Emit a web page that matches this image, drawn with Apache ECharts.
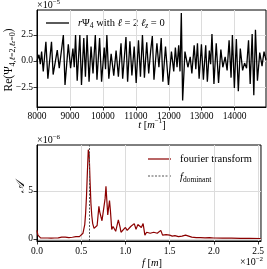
<!DOCTYPE html>
<html><head><meta charset="utf-8">
<script src="https://cdn.jsdelivr.net/npm/echarts@6/dist/echarts.min.js"></script>
<style>html,body{margin:0;padding:0;background:#fff}#c{width:267px;height:269px}</style>
</head><body><div id="c"></div>
<script>
// ---- top panel: Re(Psi4) vs t (values in units of 1e-5) ----
const timeVals = [8000,8060,8100,8140,8190,8270,8330,8440,8490,8615,8675,8800,8850,8950,9020,9090,9130,9170,9220,9300,
9350,9420,9470,9520,9580,9640,9700,9770,9820,9900,9960,10040,10080,10120,10180,10250,10330,10400,10470,10550,
10600,10700,10750,10820,10880,10950,11010,11080,11140,11200,11260,11330,11390,11450,11500,11550,11640,11700,11770,11820,
11900,11990,12080,12150,12200,12250,12300,12340,12380,12420,12490,12580,12650,12700,12770,12820,12870,12920,12990,13050,
13120,13170,13230,13270,13310,13370,13440,13510,13580,13640,13710,13770,13830,13890,13930,13990,14050,14110,14170,14240,
14300,14360,14420,14470,14530,14580,14630,14690,14760,14830,14890,14950];
const signalVals = [0.0,0.6,-0.3,0.9,-1.0,1.85,-1.7,1.85,-1.3,1.05,-0.7,2.5,-2.3,1.6,-0.7,1.2,-0.6,2.5,-1.9,2.5,
-2.3,2.2,-1.5,2.5,-2.0,1.4,-1.2,2.5,-1.8,2.2,-2.0,1.3,-0.8,2.5,-1.7,0.7,-1.4,1.0,-1.5,1.7,
-1.7,2.3,-2.0,1.9,-1.4,1.4,-2.1,2.0,-1.5,2.5,-1.6,1.8,-1.2,1.0,2.4,-1.8,1.7,-0.6,2.2,-2.0,
1.4,-2.3,0.9,-1.0,1.3,-0.6,1.5,-1.0,4.6,-3.8,0.9,-0.6,0.4,-1.2,1.5,-0.8,1.7,-1.7,1.6,-1.8,
1.5,-2.0,1.0,-0.3,2.6,-2.2,1.7,-2.1,1.1,-0.6,0.4,-0.9,2.0,-1.6,2.5,-2.6,2.1,-2.9,1.2,-0.9,
-0.2,-0.7,2.0,-2.2,2.6,-3.3,3.0,-1.9,0.8,-0.5,0.9,0.1];
const topXTicks = [8000,9000,10000,11000,12000,13000,14000];
const topYTicks = [-2.5,0,2.5];

// ---- bottom panel: Fourier amplitude vs f (f in 1e-2, A in 1e-6) ----
const freqVals = [0.00,0.01,0.02,0.04,0.08,0.12,0.16,0.20,0.24,0.28,0.30,0.32,0.36,0.40,0.44,0.46,0.48,0.50,0.52,0.54,
0.55,0.56,0.57,0.58,0.59,0.60,0.61,0.62,0.63,0.645,0.66,0.68,0.70,0.71,0.72,0.735,0.75,0.77,0.78,0.79,
0.80,0.82,0.83,0.845,0.86,0.87,0.89,0.91,0.92,0.94,0.95,0.97,1.00,1.02,1.04,1.06,1.08,1.10,1.12,1.14,
1.16,1.18,1.20,1.22,1.24,1.26,1.28,1.30,1.32,1.34,1.36,1.38,1.40,1.42,1.44,1.46,1.48,1.50,1.53,1.56,
1.60,1.64,1.68,1.70,1.75,1.80,1.85,1.90,1.95,2.00,2.10,2.20,2.30,2.40,2.53];
const ampVals = [0.9,0.4,0.2,0.12,0.1,0.1,0.08,0.1,0.12,0.2,0.25,0.2,0.15,0.18,0.25,0.3,0.25,0.35,0.6,1.5,
2.7,4.5,7.0,9.3,8.8,6.0,3.7,2.4,1.6,1.1,1.0,1.4,3.4,2.8,3.0,1.9,2.0,4.2,5.5,4.0,
2.5,4.0,3.0,1.0,1.3,1.5,0.8,1.6,2.0,1.2,0.7,0.9,1.2,0.9,0.7,1.3,1.1,1.6,1.0,1.5,
1.7,1.2,1.6,0.4,0.7,0.8,0.6,0.8,0.7,0.9,0.6,0.8,0.9,0.4,0.5,0.45,0.6,0.4,0.3,0.35,
0.25,0.3,0.4,0.2,0.2,0.15,0.15,0.12,0.15,0.1,0.08,0.08,0.06,0.06,0.05];
const dominantFreq = 0.59;
const botXTicks = [0,0.5,1.0,1.5,2.0,2.5];
const botYTicks = [0,5];

const FONT = 'Liberation Serif';
const GRIDC = '#dcdcdc';
function axisCommon(ticks, fmt, margin) {
  return {
    axisLine: {show: true, onZero: false, lineStyle: {color: '#000', width: 1}},
    axisTick: {show: true, inside: false, length: 3.5, lineStyle: {color: '#000', width: 0.8}, customValues: ticks},
    axisLabel: {color: '#000', fontFamily: FONT, fontSize: 9.5, margin: margin, customValues: ticks, formatter: fmt},
    splitLine: {show: true, lineStyle: {color: GRIDC, width: 1}}
  };
}
const neg = v => (v < 0 ? '\u2212' : '') + Math.abs(v).toFixed(1);

const chart = echarts.init(document.getElementById('c'), null, {renderer: 'canvas'});
const rich = {
  n: {fontFamily: FONT, fontSize: 10.5, color: '#000', lineHeight: 14},
  i: {fontFamily: FONT, fontSize: 10.5, fontStyle: 'italic', color: '#000', lineHeight: 14},
  s: {fontFamily: FONT, fontSize: 7.5, color: '#000', verticalAlign: 'bottom', lineHeight: 14},
  si: {fontFamily: FONT, fontSize: 7.5, fontStyle: 'italic', color: '#000', verticalAlign: 'bottom', lineHeight: 14},
  ss: {fontFamily: FONT, fontSize: 6, fontStyle: 'italic', color: '#000', verticalAlign: 'bottom', lineHeight: 12},
  p: {fontFamily: FONT, fontSize: 7, color: '#000', verticalAlign: 'top', lineHeight: 14},
  m: {fontFamily: FONT, fontSize: 10, color: '#000', lineHeight: 12},
  mp: {fontFamily: FONT, fontSize: 7, color: '#000', verticalAlign: 'top', lineHeight: 12},
  yn: {fontFamily: FONT, fontSize: 11.5, color: '#000', lineHeight: 15},
  ys: {fontFamily: FONT, fontSize: 8, color: '#000', verticalAlign: 'bottom', lineHeight: 15},
  ysi: {fontFamily: FONT, fontSize: 8, fontStyle: 'italic', color: '#000', verticalAlign: 'bottom', lineHeight: 15},
  yss: {fontFamily: FONT, fontSize: 6, fontStyle: 'italic', color: '#000', verticalAlign: 'bottom', lineHeight: 13}
};
function txt(x, y, text, extra) {
  return Object.assign({type: 'text', x: x, y: y, style: Object.assign({text: text, rich: rich, align: 'left', verticalAlign: 'middle'}, extra || {})});
}

chart.setOption({
  animation: false,
  backgroundColor: '#fff',
  grid: [
    {left: 37, top: 10, width: 229, height: 97, show: true, borderColor: '#000', borderWidth: 1},
    {left: 37, top: 145, width: 228, height: 96, show: true, borderColor: '#000', borderWidth: 1}
  ],
  xAxis: [
    Object.assign({type: 'value', gridIndex: 0, min: 8000, max: 14950}, axisCommon(topXTicks, v => String(v), 4)),
    Object.assign({type: 'value', gridIndex: 1, min: 0, max: 2.533}, axisCommon(botXTicks, v => v.toFixed(1), 5))
  ],
  yAxis: [
    Object.assign({type: 'value', gridIndex: 0, min: -4.42, max: 4.9}, axisCommon(topYTicks, neg, 4)),
    Object.assign({type: 'value', gridIndex: 1, min: -0.21, max: 9.79}, axisCommon(botYTicks, v => String(v), 4))
  ],
  series: [
    {type: 'line', xAxisIndex: 0, yAxisIndex: 0, showSymbol: false, silent: true,
     data: timeVals.map((t, k) => [t, signalVals[k]]),
     lineStyle: {color: '#000', width: 1.3}},
    {type: 'line', xAxisIndex: 1, yAxisIndex: 1, showSymbol: false, silent: true,
     data: freqVals.map((f, k) => [f, ampVals[k]]),
     lineStyle: {color: '#8b0000', width: 1.2},
     markLine: {silent: true, symbol: 'none', label: {show: false},
       lineStyle: {color: '#555', type: [2, 1.5], width: 1},
       data: [{xAxis: dominantFreq}]}}
  ],
  graphic: [
    // top panel
    txt(37, 5, '{m|×10}{mp|−5}'),
    {type: 'text', x: 9, y: 60, rotation: Math.PI / 2,
     style: {text: '{yn|Re(Ψ}{ys|4,}{ysi|ℓ}{ys|=2,}{ysi|ℓ}{yss|z}{ys|=0}{yn|)}', rich: rich, align: 'center', verticalAlign: 'middle'}},
    {type: 'line', shape: {x1: 46, y1: 23, x2: 69, y2: 23}, style: {stroke: '#000', lineWidth: 1.3}},
    txt(78, 23, '{i|r}{n|Ψ}{s|4}{n| with }{i|ℓ}{n| = 2 }{i|ℓ}{si|z}{n| = 0}'),
    {type: 'text', x: 152, y: 125, style: {text: '{i|t}{n| [}{i|m}{p|−1}{n|]}', rich: rich, align: 'center', verticalAlign: 'middle'}},
    // bottom panel
    txt(37, 140, '{m|×10}{mp|−6}'),
    {type: 'text', x: 21, y: 187, rotation: Math.PI / 2,
     style: {text: '𝒜', font: 'italic 12px ' + FONT, fill: '#000', align: 'center', verticalAlign: 'middle'}},
    {type: 'line', shape: {x1: 148, y1: 159, x2: 171, y2: 159}, style: {stroke: '#8b0000', lineWidth: 1.2}},
    txt(180, 159, '{n|fourier transform}'),
    {type: 'line', shape: {x1: 148, y1: 176, x2: 171, y2: 176}, style: {stroke: '#555', lineWidth: 1, lineDash: [2, 1.5]}},
    txt(180, 177, '{i|f}{s|dominant}'),
    {type: 'text', x: 152, y: 263, style: {text: '{i|f}{n| [}{i|m}{n|]}', rich: rich, align: 'center', verticalAlign: 'middle'}},
    txt(240, 262, '{m|×10}{mp|−2}')
  ]
});
</script></body></html>
